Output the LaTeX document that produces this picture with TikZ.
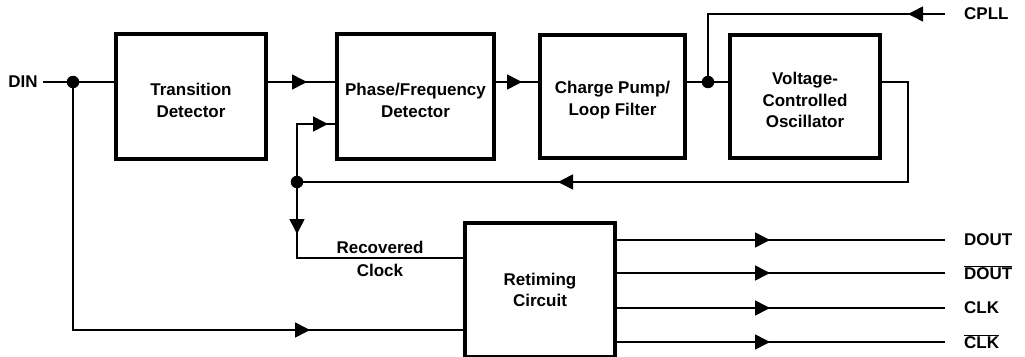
\documentclass[tikz,border=0pt]{standalone}
\usepackage{fontspec}
\setmainfont{Liberation Sans}
\usetikzlibrary{arrows.meta,decorations.markings}
\newcommand{\lowr}{\rule{0pt}{20pt}}
\tikzset{
  txt/.style={font=\bfseries\fontsize{17}{21.5}\selectfont},
  blk/.style={draw, line width=3.3pt, outer sep=0pt, inner sep=0pt, align=center, txt},
  wire/.style={line width=1.6pt},
  marr/.style={decoration={markings, mark=at position #1 with {\arrow{Triangle[length=15pt,width=15pt]}}}, postaction={decorate}},
  jdot/.style={circle, fill, inner sep=0pt, minimum size=12.5pt},
  lbl/.style={inner sep=0pt, txt}
}
\begin{document}
\begin{tikzpicture}[x=1pt,y=-1pt]
\useasboundingbox (0,0) rectangle (1025,356);
% blocks
\node[blk, minimum width=150pt, minimum height=125pt] (td) at (191,96.5) {\lowr Transition\\Detector};
\node[blk, minimum width=157pt, minimum height=125pt] (pfd) at (415.5,96.5) {\lowr Phase/Frequency\\Detector};
\node[blk, minimum width=145pt, minimum height=123pt] (cp) at (612.5,96.5) {\lowr Charge Pump/\\Loop Filter};
\node[blk, minimum width=150pt, minimum height=123pt] (vco) at (805,96.5) {\lowr Voltage-\\Controlled\\Oscillator};
\node[blk, minimum width=150pt, minimum height=134pt] (rt) at (540,290) {Retiming\\Circuit};
% labels
\node[lbl] (din) at (23,82) {DIN};
\node[lbl, anchor=west] (cpll) at (964,14) {CPLL};
\node[lbl] (rec) at (380,247) {Recovered};
\node[lbl] (clk) at (380,270.5) {Clock};
\node[lbl, anchor=west] (o1) at (964,240) {DOUT};
\node[lbl, anchor=west] (o2) at (964,273) {$\overline{\hbox{DOUT}}$};
\node[lbl, anchor=west] (o3) at (964,308) {CLK};
\node[lbl, anchor=west] (o4) at (964,342) {$\overline{\hbox{CLK}}$};
% junctions
\coordinate (j1) at (73,82);
\coordinate (j2) at (708,82);
\coordinate (j3) at (297,182);
\coordinate (fbr) at (908,182);
\coordinate (cin) at (945,14);
\coordinate (e1) at (945,240);
\coordinate (e2) at (945,273);
\coordinate (e3) at (945,308);
\coordinate (e4) at (945,342);
% wires
\draw[wire, shorten <=5pt] (din.east) -- (j1) -- (j1 -| td.west);
\draw[wire, marr=41pt] (td.east |- j1) -- (pfd.west |- j1);
\draw[wire, marr=28pt] (pfd.east |- j1) -- (cp.west |- j1);
\draw[wire] (cp.east |- j1) -- (j2) -- (vco.west |- j1);
\draw[wire, marr=37pt] (cin) -| (j2);
\draw[wire, marr=478pt] (vco.east |- j1) -| (fbr) -- (j3);
\draw[wire, marr=89pt] (j3) |- (pfd.west |- 0,124);
\draw[wire, marr=52pt] (j3) |- (rt.west |- 0,258);
\draw[wire, marr=485pt] (j1) |- (rt.west |- 0,330);
\draw[wire, marr=155pt] (rt.east |- e1) -- (e1);
\draw[wire, marr=155pt] (rt.east |- e2) -- (e2);
\draw[wire, marr=155pt] (rt.east |- e3) -- (e3);
\draw[wire, marr=155pt] (rt.east |- e4) -- (e4);
% dots
\node[jdot] at (j1) {};
\node[jdot] at (j2) {};
\node[jdot] at (j3) {};
\end{tikzpicture}
\end{document}
